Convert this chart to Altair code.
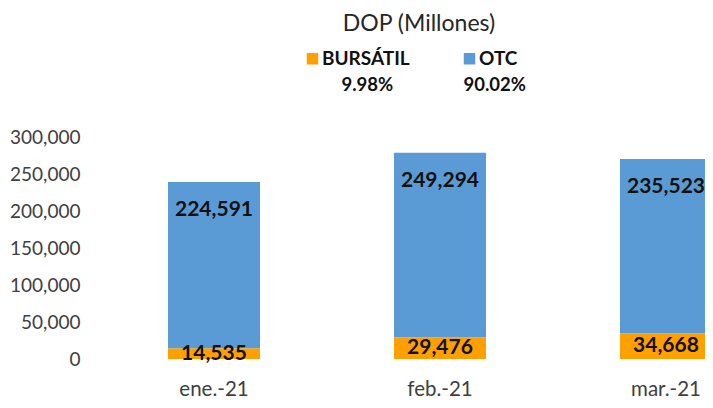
import altair as alt
import pandas as pd

# ---- data ----
months = ["ene.-21", "feb.-21", "mar.-21"]
series = ["BURSÁTIL", "OTC"]
bursatil = [14535, 29476, 34668]
otc = [224591, 249294, 235523]
colors = ["#FFA000", "#5B9BD5"]
y_ticks = [0, 50000, 100000, 150000, 200000, 250000, 300000]

total_b = sum(bursatil)
total_o = sum(otc)
grand = total_b + total_o
pcts = [f"{100 * total_b / grand:.2f}%", f"{100 * total_o / grand:.2f}%"]

long_rows = []
for m, b, o in zip(months, bursatil, otc):
    long_rows.append({"mes": m, "serie": series[0], "valor": b, "orden": 0})
    long_rows.append({"mes": m, "serie": series[1], "valor": o, "orden": 1})
long_df = pd.DataFrame(long_rows)
wide_df = pd.DataFrame({"mes": months, "b": bursatil, "o": otc})
pct_df = pd.DataFrame({"pct": pcts})

FONT = "Lato"

x_scale = alt.Scale(paddingInner=0.5929, paddingOuter=0.177, align=1)
x_axis = alt.Axis(labelAngle=0, labelFontSize=20.5, labelColor="#404040", labelPadding=20,
                  ticks=False, domain=False, labelFont=FONT)
y_scale = alt.Scale(domain=[0, 300000], nice=False)
y_axis = alt.Axis(values=y_ticks, format=",.0f", grid=False, ticks=False, domain=False,
                  labelOverlap=False, labelFontSize=19, labelColor="#404040",
                  labelPadding=8, labelFont=FONT)


def xenc():
    return alt.X("mes:N", sort=months, title=None, scale=x_scale, axis=x_axis)


bars = alt.Chart(long_df).mark_bar().encode(
    x=xenc(),
    y=alt.Y("valor:Q", stack="zero", scale=y_scale, title=None, axis=y_axis),
    color=alt.Color("serie:N", scale=alt.Scale(domain=series, range=colors),
                    legend=alt.Legend(title=None, orient="none", legendX=215, legendY=-88,
                                      direction="horizontal", symbolType="square", symbolSize=132,
                                      symbolStrokeWidth=0, labelFontSize=19, labelFontWeight="bold",
                                      labelColor="#111111", labelOffset=0, columnPadding=50,
                                      labelFont=FONT, symbolOpacity=1)),
    order=alt.Order("orden:Q"),
)

lab_b = alt.Chart(wide_df).transform_calculate(mid="datum.b / 2").mark_text(
    fontSize=21, fontWeight="bold", color="#111111", font=FONT, baseline="middle"
).encode(x=xenc(), y=alt.Y("mid:Q", scale=y_scale, title=None, axis=y_axis),
         text=alt.Text("b:Q", format=","))

lab_o = alt.Chart(wide_df).transform_calculate(top="datum.b + datum.o").mark_text(
    fontSize=21, fontWeight="bold", color="#111111", font=FONT, baseline="middle", dy=28
).encode(x=xenc(), y=alt.Y("top:Q", scale=y_scale, title=None, axis=y_axis),
         text=alt.Text("o:Q", format=","))

pct_layer = alt.Chart(pct_df).mark_point(opacity=0).encode(
    shape=alt.Shape("pct:N", sort=pcts,
                    legend=alt.Legend(title=None, orient="none", legendX=235, legendY=-61,
                                      direction="horizontal", symbolOpacity=0, symbolSize=1,
                                      labelOffset=0, labelFontSize=18.5, labelFontWeight="bold",
                                      labelColor="#111111", columnPadding=51, labelFont=FONT))
)

chart = alt.layer(bars, lab_b, lab_o, pct_layer).resolve_legend(color="independent", shape="independent").properties(
    width=624,
    height=222,
    padding={"left": 80, "top": 129, "right": -7, "bottom": 39},
    autosize=alt.AutoSizeParams(type="none"),
    title=alt.TitleParams("DOP (Millones)", fontSize=23, font=FONT, fontWeight="normal",
                          color="#262626", offset=13, anchor="middle", dx=19),
).configure_view(stroke=None)

chart.save("out.html", embed_options={"renderer": "svg", "actions": False})
